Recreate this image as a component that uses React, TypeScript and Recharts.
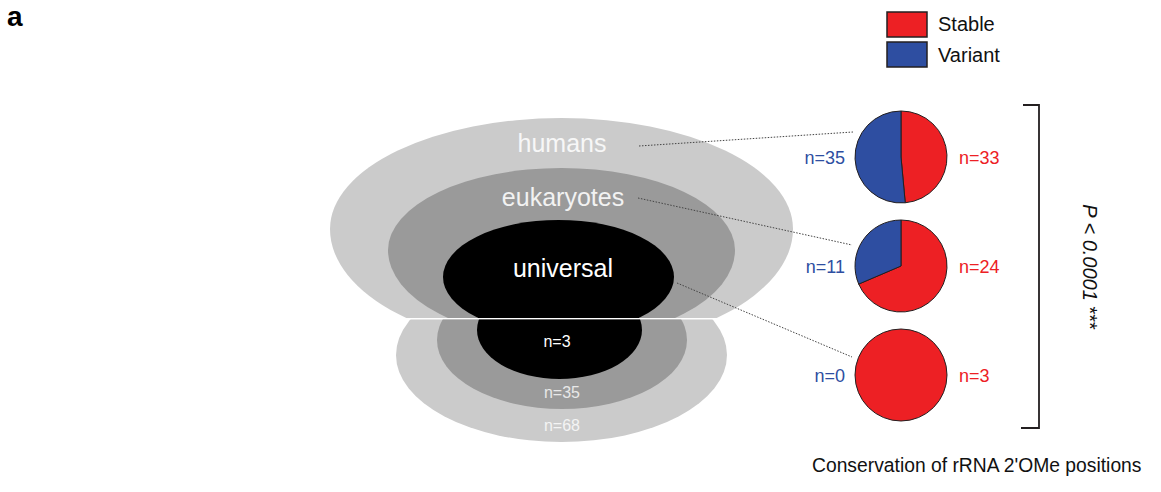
import React from 'react';
import { PieChart, Pie, Cell } from 'recharts';

// data
const levels = ['humans', 'eukaryotes', 'universal'];
const stableCounts = [33, 24, 3];
const variantCounts = [35, 11, 0];
const totalCounts = [68, 35, 3];
const seriesNames = ['Stable', 'Variant'];

const W = 1161;
const H = 492;
const RED = '#ED2024';
const BLUE = '#2E4EA1';
const INK = '#231f20';
const FONT = '"Liberation Sans", Arial, Helvetica, sans-serif';
const SERIES_COLORS = [RED, BLUE];

// layout of the pies and their connector lines
const PIE_X = 901;
const PIE_Y = [157, 266, 375];
const PIE_R = 46;
const LINE_FROM = [
  [639, 146],
  [638, 198],
  [677, 283],
];
const LINE_TO = [
  [853, 132],
  [852, 245],
  [852, 357],
];

const CUT_Y = 318;

// half-ellipse top + half-ellipse bottom (the rings are a bit egg shaped)
const egg = (cx: number, cy: number, rx: number, ryT: number, ryB: number) =>
  `M${cx - rx},${cy} A${rx},${ryT} 0 0 1 ${cx + rx},${cy} A${rx},${ryB} 0 0 1 ${cx - rx},${cy} Z`;

const pieData = levels.map((_, i) =>
  seriesNames
    .map((name, k) => ({ name, value: k === 0 ? stableCounts[i] : variantCounts[i], color: SERIES_COLORS[k] }))
    .filter(d => d.value > 0)
);

const Diagram = () => (
  <svg width={W} height={H} style={{ position: 'absolute', left: 0, top: 0 }} fontFamily={FONT}>
    <defs>
      <clipPath id="topClip">
        <rect x={0} y={0} width={W} height={CUT_Y} />
      </clipPath>
      <clipPath id="botClip">
        <rect x={0} y={CUT_Y + 1.5} width={W} height={H} />
      </clipPath>
    </defs>

    <text x={7} y={26} fontSize={28} fontWeight="bold" fill="#000">a</text>

    {/* lower cross-section */}
    <g clipPath="url(#botClip)">
      <ellipse cx={561.5} cy={355} rx={165.5} ry={87} fill="#CBCBCB" />
      <ellipse cx={562} cy={340} rx={125} ry={69} fill="#9A9A9A" />
      <ellipse cx={559.5} cy={330} rx={82.5} ry={49} fill="#000" />
    </g>

    {/* upper nested sets */}
    <g clipPath="url(#topClip)">
      <path d={egg(561.5, 229, 231.5, 111, 120)} fill="#CBCBCB" />
      <path d={egg(561.5, 250, 173.5, 82, 90)} fill="#9A9A9A" />
      <ellipse cx={558.5} cy={277} rx={115.5} ry={57} fill="#000" />
    </g>

    <text x={562} y={152} fontSize={25} fill="#F7F7F7" textAnchor="middle">{levels[0]}</text>
    <text x={563} y={206} fontSize={25} fill="#F2F2F2" textAnchor="middle">{levels[1]}</text>
    <text x={563} y={277} fontSize={25} fill="#FFFFFF" textAnchor="middle">{levels[2]}</text>

    <text x={557} y={347} fontSize={16} fill="#FFFFFF" textAnchor="middle">n={totalCounts[2]}</text>
    <text x={562} y={398} fontSize={16} fill="#E8E8E8" textAnchor="middle">n={totalCounts[1]}</text>
    <text x={562} y={431} fontSize={16} fill="#F4F4F4" textAnchor="middle">n={totalCounts[0]}</text>

    {LINE_FROM.map((p, i) => (
      <line
        key={i}
        x1={p[0]}
        y1={p[1]}
        x2={LINE_TO[i][0]}
        y2={LINE_TO[i][1]}
        stroke="#444"
        strokeWidth={1}
        strokeDasharray="1.5 1.5"
      />
    ))}

    {/* n labels beside each pie */}
    {levels.map((_, i) => (
      <g key={i} fontSize={18}>
        <text x={PIE_X - 56} y={PIE_Y[i] + 6.5} fill={BLUE} textAnchor="end">n={variantCounts[i]}</text>
        <text x={PIE_X + 58} y={PIE_Y[i] + 6.5} fill={RED}>n={stableCounts[i]}</text>
      </g>
    ))}

    {/* legend */}
    {seriesNames.map((name, k) => (
      <g key={name}>
        <rect x={887} y={12 + k * 30} width={40} height={25} fill={SERIES_COLORS[k]} stroke={INK} strokeWidth={1.5} />
        <text x={938} y={31 + k * 31} fontSize={20} fill="#111">{name}</text>
      </g>
    ))}

    {/* significance bracket */}
    <path d="M1023,105 H1039 V428 H1021" fill="none" stroke={INK} strokeWidth={1.8} />
    <text
      x={1090}
      y={267}
      fontSize={20}
      fill="#111"
      textAnchor="middle"
      dominantBaseline="central"
      transform="rotate(90 1090 267)"
    >
      <tspan fontStyle="italic">P &lt; 0.0001</tspan>
      <tspan> ***</tspan>
    </text>

    <text x={812} y={472} fontSize={19.3} fill="#111">Conservation of rRNA 2'OMe positions</text>
  </svg>
);

// outline for pies that are a single full slice (a sector stroke would add a radius line)
const Outlines = () => (
  <svg width={W} height={H} style={{ position: 'absolute', left: 0, top: 0, pointerEvents: 'none' }}>
    {pieData.map((data, i) =>
      data.length === 1 ? (
        <circle key={i} cx={PIE_X} cy={PIE_Y[i]} r={PIE_R} fill="none" stroke={INK} strokeWidth={1} />
      ) : null
    )}
  </svg>
);

export default function App() {
  return (
    <div style={{ position: 'absolute', left: 0, top: 0, width: W, height: H, background: '#fff' }}>
      <Diagram />
      <div style={{ position: 'absolute', left: 0, top: 0 }}>
        <PieChart width={W} height={H} margin={{ top: 0, right: 0, bottom: 0, left: 0 }}>
          {pieData.map((data, i) => (
            <Pie
              key={levels[i]}
              data={data}
              dataKey="value"
              nameKey="name"
              cx={PIE_X}
              cy={PIE_Y[i]}
              outerRadius={PIE_R}
              startAngle={90}
              endAngle={-270}
              stroke={data.length === 1 ? 'none' : INK}
              strokeWidth={1}
              isAnimationActive={false}
            >
              {data.map(d => (
                <Cell key={d.name} fill={d.color} />
              ))}
            </Pie>
          ))}
        </PieChart>
      </div>
      <Outlines />
    </div>
  );
}
